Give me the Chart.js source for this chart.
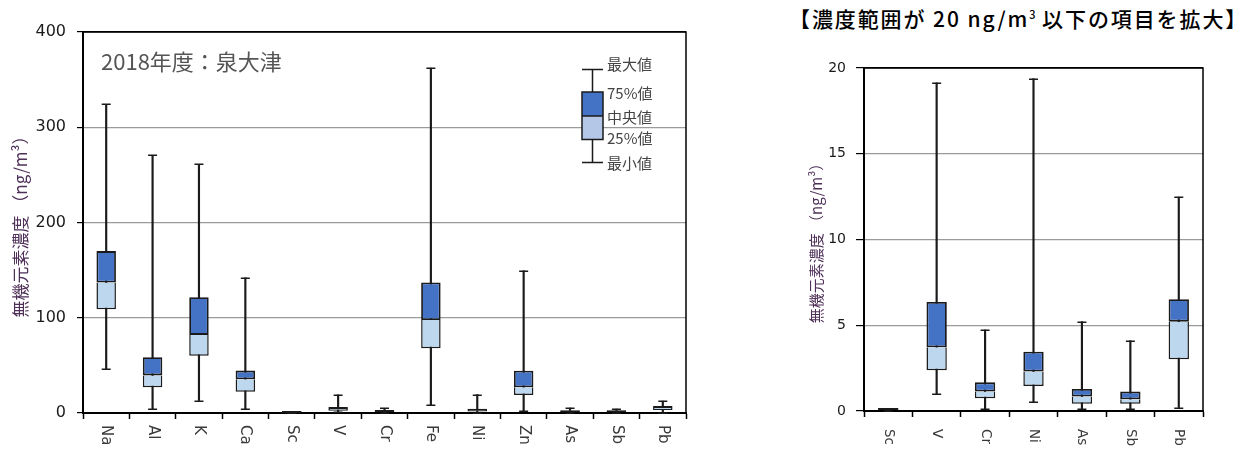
<!DOCTYPE html>
<html lang="ja">
<head>
<meta charset="utf-8">
<title>無機元素濃度 2018年度 泉大津</title>
<script src="https://cdn.jsdelivr.net/npm/chart.js@4.4.1/dist/chart.umd.min.js"></script>
<style>
  html, body { margin: 0; padding: 0; background: #ffffff; }
  body { position: relative; width: 1236px; height: 450px; overflow: hidden; }
  .panel { position: absolute; }
  #mainPanel { left: 0; top: 0; width: 700px; height: 450px; }
  #zoomPanel { left: 780px; top: 40px; width: 456px; height: 410px; }
  #zoomTitle {
    position: absolute; left: 789px; top: 3px; white-space: nowrap;
    font-family: "Noto Sans CJK JP", sans-serif; font-size: 21px; font-weight: 500;
    color: #000; letter-spacing: 1.9px;
  }
  #zoomTitle sup { font-size: 11px; vertical-align: 8px; letter-spacing: 0; }
</style>
</head>
<body>
<div id="zoomTitle">【濃度範囲が 20 ng/m<sup>3</sup> 以下の項目を拡大】</div>
<div class="panel" id="mainPanel"><canvas id="mainChart"></canvas></div>
<div class="panel" id="zoomPanel"><canvas id="zoomChart"></canvas></div>
<script>
// Element concentration statistics (ng/m³), 2018, 泉大津
const elements      = ['Na', 'Al', 'K', 'Ca', 'Sc', 'V', 'Cr', 'Fe', 'Ni', 'Zn', 'As', 'Sb', 'Pb'];
const minValues     = [46, 4, 13, 4, 0.02, 0.97, 0.1, 8, 0.5, 2, 0.1, 0.1, 0.2];
const q1Values      = [109, 27, 60, 22.4, 0.04, 2.37, 0.74, 68, 1.46, 19, 0.43, 0.43, 3.02];
const medianValues  = [137, 39.5, 82, 35.4, 0.06, 3.72, 1.13, 97.6, 2.3, 27, 0.84, 0.68, 5.21];
const q3Values      = [170, 58.5, 121.5, 44.5, 0.08, 6.36, 1.67, 137, 3.46, 44.4, 1.28, 1.13, 6.52];
const maxValues     = [324, 270.5, 261, 142, 0.13, 19.13, 4.73, 362, 19.38, 149.4, 5.21, 4.1, 12.47];

// Elements whose range stays under 20 ng/m³ (enlarged panel)
const zoomElements  = ['Sc', 'V', 'Cr', 'Ni', 'As', 'Sb', 'Pb'];

const mainTicks = [0, 100, 200, 300, 400];
const zoomTicks = [0, 5, 10, 15, 20];

const legendLabels = ['最大値', '75%値', '中央値', '25%値', '最小値'];
const siteLabel = '2018年度：泉大津';
const yTitle = '無機元素濃度 （ng/m³）';

const DARK = '#4472C4';
const LIGHT = '#BDD7EE';
const LINE = '#1a1a1a';
const NUM_FONT = '"DejaVu Sans", Verdana, sans-serif';
const JP_FONT = '"Noto Sans CJK JP", sans-serif';

function boxDatasets(names) {
  const idx = names.map(n => elements.indexOf(n));
  return [
    { label: 'whisker', data: idx.map(i => [minValues[i], maxValues[i]]),
      backgroundColor: LINE, barThickness: 1.5, grouped: false, order: 3 },
    { label: 'lower', data: idx.map(i => [q1Values[i], medianValues[i]]),
      backgroundColor: LIGHT, borderColor: LINE, borderWidth: 1.5, borderSkipped: 'end',
      minBarLength: 2, barPercentage: 0.42, categoryPercentage: 1, grouped: false, order: 2 },
    { label: 'upper', data: idx.map(i => [medianValues[i], q3Values[i]]),
      backgroundColor: DARK, borderColor: LINE, borderWidth: 1.8, borderSkipped: false,
      minBarLength: 2, barPercentage: 0.42, categoryPercentage: 1, grouped: false, order: 1 }
  ];
}

// Whisker end caps at min / max
const whiskerCaps = {
  id: 'whiskerCaps',
  afterDatasetsDraw(chart, args, opts) {
    const { ctx, scales: { x, y } } = chart;
    const ds = chart.data.datasets[0].data;
    ctx.save();
    ctx.strokeStyle = LINE;
    ctx.lineWidth = 1.5;
    ds.forEach(([lo, hi], i) => {
      const cx = x.getPixelForValue(i);
      [lo, hi].forEach(v => {
        const py = Math.round(y.getPixelForValue(v)) + 0.25;
        ctx.beginPath();
        ctx.moveTo(cx - opts.width / 2, py);
        ctx.lineTo(cx + opts.width / 2, py);
        ctx.stroke();
      });
    });
    ctx.restore();
  }
};

// Plot frame (top and right edges)
const plotFrame = {
  id: 'plotFrame',
  afterDraw(chart) {
    const { ctx, chartArea: a } = chart;
    ctx.save();
    ctx.strokeStyle = '#000';
    ctx.lineWidth = 1.5;
    ctx.beginPath();
    ctx.moveTo(a.left, a.top);
    ctx.lineTo(a.right, a.top);
    ctx.lineTo(a.right, a.bottom);
    ctx.stroke();
    ctx.restore();
  }
};

// Category names written top-to-bottom under each tick
const sideLabels = {
  id: 'sideLabels',
  afterDraw(chart, args, opts) {
    const { ctx, scales: { x } } = chart;
    ctx.save();
    ctx.font = opts.font;
    ctx.fillStyle = opts.color;
    ctx.textAlign = 'left';
    ctx.textBaseline = 'middle';
    chart.data.labels.forEach((lab, i) => {
      ctx.save();
      ctx.translate(x.getPixelForValue(i), x.top + opts.offset);
      ctx.rotate(Math.PI / 2);
      ctx.fillText(lab, 0, 0);
      ctx.restore();
    });
    ctx.restore();
  }
};

// Site caption and box-plot key inside the main panel
const mainNotes = {
  id: 'mainNotes',
  afterDraw(chart) {
    const { ctx, chartArea: a } = chart;
    ctx.save();
    ctx.font = '22px ' + JP_FONT;
    ctx.fillStyle = '#555555';
    ctx.textBaseline = 'middle';
    ctx.fillText(siteLabel, a.left + 18, a.top + 30);

    // key box
    const bx = a.right - 104, bw = 21, cx = bx + bw / 2;
    const yMax = a.top + 37.5, yQ3 = a.top + 60, yMed = a.top + 84, yQ1 = a.top + 107.5, yMin = a.top + 130.5;
    ctx.strokeStyle = LINE;
    ctx.lineWidth = 1.5;
    ctx.beginPath();
    ctx.moveTo(cx, yMax); ctx.lineTo(cx, yMin);
    ctx.moveTo(bx, yMax); ctx.lineTo(bx + bw, yMax);
    ctx.moveTo(bx, yMin); ctx.lineTo(bx + bw, yMin);
    ctx.stroke();
    ctx.fillStyle = DARK;
    ctx.fillRect(bx, yQ3, bw, yMed - yQ3);
    ctx.fillStyle = '#B4C7E7';
    ctx.fillRect(bx, yMed, bw, yQ1 - yMed);
    ctx.strokeRect(bx, yQ3, bw, yQ1 - yQ3);
    ctx.beginPath();
    ctx.moveTo(bx, yMed); ctx.lineTo(bx + bw, yMed);
    ctx.stroke();

    ctx.font = '15px ' + JP_FONT;
    ctx.fillStyle = '#444444';
    const ys = [yMax - 5, yQ3 + 1, yMed + 1, yQ1 - 1, yMin + 1];
    legendLabels.forEach((t, i) => ctx.fillText(t, bx + bw + 4, ys[i]));
    ctx.restore();
  }
};

function makeOptions(cfg) {
  return {
    responsive: true,
    maintainAspectRatio: false,
    animation: false,
    events: [],
    layout: { padding: cfg.padding },
    plugins: {
      legend: { display: false },
      tooltip: { enabled: false },
      whiskerCaps: { width: 9 },
      sideLabels: { font: cfg.xFont, color: '#3a3a3a', offset: cfg.xOffset }
    },
    scales: {
      x: {
        type: 'category',
        offset: true,
        grid: { display: true, offset: true, drawOnChartArea: false, drawTicks: true,
                tickLength: 6, tickColor: '#000', tickWidth: 1.5 },
        border: { display: true, color: '#000', width: 2 },
        ticks: { display: false },
        afterFit: s => { s.height = cfg.xHeight; }
      },
      y: {
        min: cfg.ticks[0],
        max: cfg.ticks[cfg.ticks.length - 1],
        afterBuildTicks: s => { s.ticks = cfg.ticks.map(v => ({ value: v })); },
        grid: {
          color: c => (c.tick && c.tick.value === cfg.ticks[cfg.ticks.length - 1]) ? '#000'
                     : (c.tick && c.tick.value === 0 ? 'rgba(0,0,0,0)' : '#9a9a9a'),
          lineWidth: 1.2,
          tickLength: cfg.tickLength, tickColor: '#000', tickWidth: 1.2
        },
        border: { display: true, color: '#000', width: 2 },
        ticks: { font: { family: NUM_FONT, size: cfg.yFontSize }, color: '#1a1a1a',
                 padding: cfg.tickPad },
        title: { display: true, text: yTitle, color: '#4d2f57',
                 font: { family: JP_FONT, size: cfg.titleSize },
                 padding: { top: cfg.titlePad, bottom: 0 } },
        afterFit: s => { s.width = cfg.yWidth; }
      }
    }
  };
}

Chart.register(whiskerCaps, plotFrame, sideLabels);

new Chart(document.getElementById('mainChart'), {
  type: 'bar',
  data: { labels: elements, datasets: boxDatasets(elements) },
  options: makeOptions({
    padding: { left: 0, right: 14, top: 32, bottom: 0 },
    ticks: mainTicks, yWidth: 83, xHeight: 37, yFontSize: 16, tickLength: 6, tickPad: 11,
    titleSize: 17, titlePad: 10, xFont: '15px ' + NUM_FONT, xOffset: 12
  }),
  plugins: [mainNotes]
});

new Chart(document.getElementById('zoomChart'), {
  type: 'bar',
  data: { labels: zoomElements, datasets: boxDatasets(zoomElements) },
  options: makeOptions({
    padding: { left: 0, right: 33, top: 28, bottom: 0 },
    ticks: zoomTicks, yWidth: 84, xHeight: 39, yFontSize: 14, tickLength: 8, tickPad: 10,
    titleSize: 15, titlePad: 27, xFont: '13.5px ' + NUM_FONT, xOffset: 18
  })
});
</script>
</body>
</html>
